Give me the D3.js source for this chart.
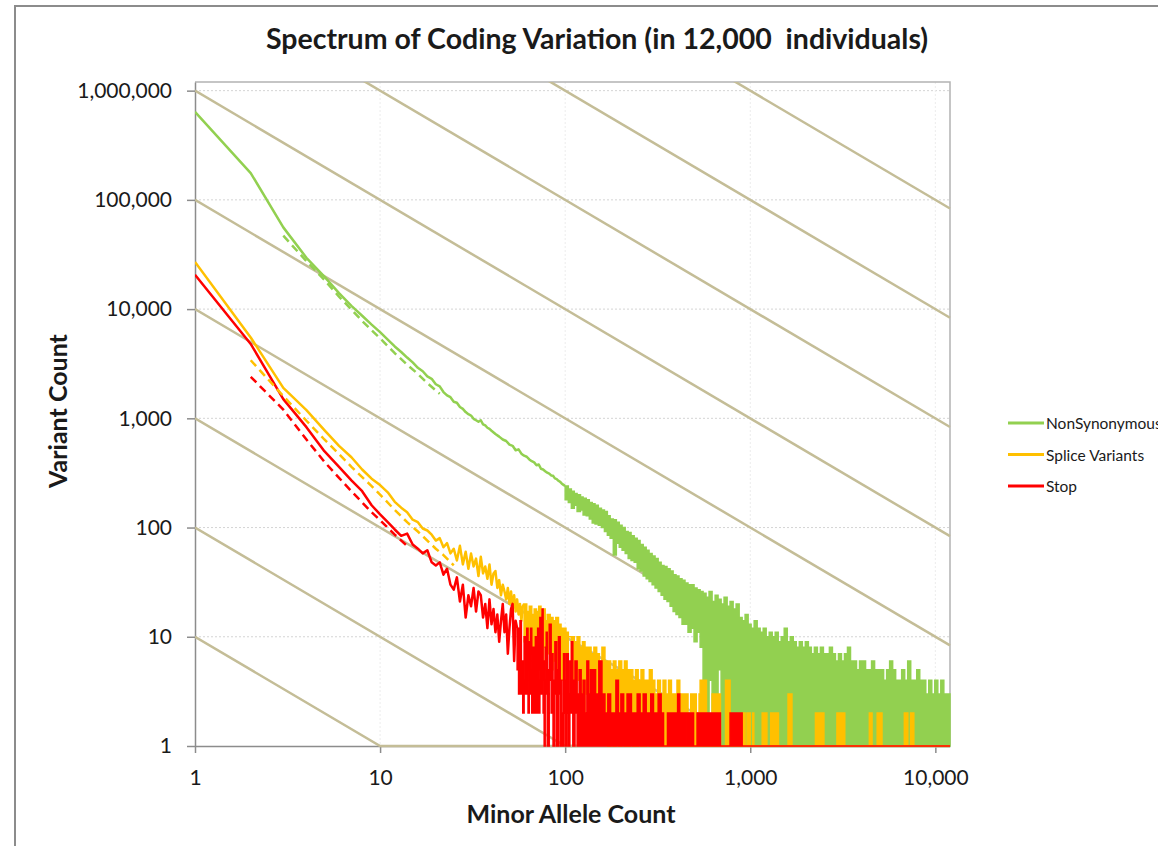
<!DOCTYPE html>
<html>
<head>
<meta charset="utf-8">
<script src="https://cdn.jsdelivr.net/npm/d3@7"></script>
<style>
  body { margin: 0; background: #fff; }
  text { font-family: Lato, "Open Sans", sans-serif; fill: #1a1a1a; }
</style>
</head>
<body>
<svg id="chart" width="1158" height="846"></svg>
<script>
// Axis ranges and ticks
const xMax = 12000;
const yMax = 1.2e6;
const xTicks = [1, 10, 100, 1000, 10000];
const yTicks = [1, 10, 100, 1000, 10000, 100000, 1000000];
// constant-product guide lines (count = level / minor allele count)
const guideLevels = [1e1, 1e2, 1e3, 1e4, 1e5, 1e6, 1e7, 1e8, 1e9];

const seriesNames = ['NonSynonymous', 'Splice Variants', 'Stop'];
const seriesColors = ['#92d050', '#ffc000', '#ff0000'];

// NonSynonymous: [minor allele count, variant count]
const nonSynonymous = [
  [1,640000],[2,176000],[3,56000],[4,29500],[5,19800],[6,14000],[7,10700],[8,8700],[9,7200],[10,6150],
  [11,5250],[12,4550],[13,4050],[14,3600],[15,3250],[16,2900],[17,2700],[18,2420],[19,2300],[20,2050],
  [21,1960],[22,1740],[23,1620],[24,1560],[25,1420],[26,1390],[27,1270],[28,1220],[29,1140],[30,1090],
  [31,1060],[32,990],[33,960],[34,930],[35,960],[36,880],[37,860],[38,820],[39,800],[40,770],
  [42,720],[44,680],[46,640],[48,620],[50,575],[52,560],[54,510],[56,520],[58,475],[60,455],
  [62,445],[64,420],[66,405],[68,395],[70,372],[72,378],[74,345],[76,340],[78,328],[80,318],
  [82,312],[84,300],[86,298],[88,282],[90,278],[92,268],[94,262],[96,252],[98,246],[100,240]
];
// NonSynonymous dense part: [minor allele count, high, low]
const nonSynonymousBand = [
  [100,240,180],[104,225,170],[108,215,150],[112,205,160],[116,200,140],[121,190,145],[125,185,130],
  [130,180,128],[135,170,120],[140,165,110],[145,160,108],[151,150,105],[157,145,100],[163,140,92],
  [169,128,85],[175,120,80],[182,118,56],[189,112,72],[196,105,66],[203,100,62],[211,92,58],
  [219,90,52],[227,84,50],[236,80,48],[245,76,42],[254,70,40],[264,66,36],[274,62,34],[284,58,32],
  [295,55,30],[306,52,28],[318,48,26],[330,45,24],[342,44,22],[355,42,21],[369,40,19],[383,37,17],
  [397,36,16],[412,34,15],[428,33,13],[444,31,13],[461,30,11],[479,30,12],[497,28,9],[516,27,11],
  [536,26,8],[556,25,1],[577,23,1],[599,26,4],[622,21,1],[646,24,1],[670,22,5],[696,20,1],
  [722,23,1],[750,19,3],[778,21,1],[808,18,1],[839,20,1],[871,15,1],[904,14,1],[938,16,1],
  [974,13,1],[1011,12,1],[1050,14,1],[1090,12,1],[1131,11,1],[1175,12,1],[1219,10,1],[1266,11,1],
  [1314,10,1],[1364,11,1],[1416,9,1],[1470,10,1],[1526,12,1],[1585,9,1],[1645,10,1],[1708,9,1],
  [1773,8,1],[1841,9,1],[1911,8,1],[1984,9,1],[2060,8,1],[2138,7,1],[2220,8,1],[2305,7,1],
  [2393,8,1],[2484,7,1],[2579,7,1],[2677,8,1],[2779,7,1],[2886,6,1],[2996,7,1],[3110,6,1],
  [3229,7,1],[3352,8,1],[3480,6,1],[3613,6,1],[3751,5,1],[3894,6,1],[4043,6,1],[4197,5,1],
  [4357,5,1],[4523,6,1],[4696,5,1],[4875,5,1],[5061,5,1],[5254,4,1],[5455,5,1],[5663,6,1],
  [5879,5,1],[6103,4,1],[6336,4,1],[6578,5,1],[6829,4,1],[7090,6,1],[7360,4,1],[7641,4,1],
  [7933,5,1],[8235,4,1],[8550,4,1],[8876,3,1],[9214,4,1],[9566,3,1],[9931,4,1],[10310,3,1],
  [10703,4,1],[11112,3,1],[11536,3,1],[12000,3,1]
];
const nonSynonymousDashed = [
  [3,47000],[4,27500],[5,18500],[6,13000],[7,9900],[8,7800],[9,6400],[10,5400],
  [12,3950],[14,3100],[16,2550],[18,2100],[20,1800],[21,1680]
];

// Splice Variants
const spliceVariants = [
  [1,27000],[2,5500],[3,1900],[4,1190],[5,780],[6,560],[7,440],[8,340],[9,280],[10,245],
  [11,210],[12,172],[13,152],[14,138],[15,118],[16,112],[17,98],[18,94],[19,86],[20,76],
  [21,80],[22,66],[23,72],[24,58],[25,64],[26,50],[27,68],[28,46],[29,60],[30,42],
  [31,58],[32,44],[33,52],[34,36],[35,54],[36,38],[37,44],[38,34],[39,46],[40,30],
  [41,38],[42,40],[43,28],[44,33],[45,24],[46,30],[47,26],[48,22],[49,28],[50,20],
  [51,26],[52,18],[53,24],[54,17],[55,22],[56,16],[57,20],[58,14],[59,19],[60,20]
];
const spliceBand = [
  [60,20,9],[62,17,8],[64,19,10],[66,16,7],[68,18,8],[70,17,6],[72,19,9],[74,16,6],[76,18,8],
  [78,14,5],[80,16,7],[83,15,5],[86,14,6],[89,15,4],[92,13,5],[95,12,4],[98,12,5],[101,11,3],
  [104,10,10],[108,10,4],[112,9,3],[116,10,4],[120,8,3],[124,9,2],[128,8,3],[133,8,2],[138,7,2],
  [143,8,2],[148,7,2],[153,6,2],[158,8,2],[164,6,2],[170,6,1],[176,5,2],[182,6,1],[188,5,2],
  [195,6,1],[202,5,2],[209,6,1],[216,5,1],[224,5,2],[232,4,1],[240,5,1],[248,4,2],[257,5,1],
  [266,4,1],[275,4,2],[285,5,1],[295,4,1],[305,3,1],[316,4,1],[327,3,1],[338,4,1],[350,3,1],
  [362,4,1],[375,3,1],[388,3,1],[402,4,1],[416,3,1],[430,3,1],[445,3,1],[461,2,1],[477,3,1],
  [494,3,1],[511,2,1],[529,3,1],[536,4,1],[580,1,1],[622,3,1],[690,1,1],[735,4,1],[778,1,1],
  [904,2,1],[938,1,1],[960,2,1],[1000,1,1],[1030,2,1],[1045,1,1],[1160,2,1],[1230,1,1],
  [1290,2,1],[1420,1,1],[1600,3,1],[1680,1,1],[2250,2,1],[2500,1,1],[2940,2,1],[3240,1,1],
  [4400,2,1],[4550,1,1],[4850,2,1],[5150,1,1],[6800,2,1],[7100,1,1],[7350,2,1],[7650,1,1],
  [12000,1,1]
];
const spliceDashed = [
  [2,3400],[3,1600],[4,950],[5,640],[6,470],[7,360],[8,290],[9,240],[10,200],
  [12,145],[14,112],[16,92],[18,76],[20,64],[22,56],[25,45]
];

// Stop
const stop = [
  [1,20600],[2,4800],[3,1500],[4,830],[5,500],[6,360],[7,270],[8,215],[9,160],[10,132],
  [11,112],[12,96],[13,84],[14,88],[15,70],[16,64],[17,58],[18,62],[19,48],[20,45],
  [21,48],[22,37],[23,42],[24,30],[25,27],[26,35],[27,21],[28,30],[29,15],[30,24],
  [31,19],[32,28],[33,17],[34,26],[35,24],[36,15],[37,20],[38,12],[39,22],[40,13],
  [41,18],[42,11],[43,16],[44,9],[45,14],[46,20],[47,11],[48,16],[49,7],[50,12],
  [51,18],[52,20],[53,6],[54,14],[55,12]
];
const stopBand = [
  [55,12,5],[56,9,3],[57,14,6],[58,6,3],[59,4,2],[60,10,4],[61,7,3],[62,12,5],[63,5,2],[64,9,3],
  [65,12,5],[66,5,2],[67,8,3],[68,4,2],[69,10,4],[70,6,2],[71,12,4],[72,5,2],[73,15,5],[74,8,3],
  [75,18,6],[76,6,2],[77,4,0],[78,8,3],[79,11,4],[80,5,1],[82,13,4],[84,7,2],[86,4,0],[88,9,3],
  [90,5,1],[92,10,3],[94,4,1],[96,2,0],[98,7,2],[100,4,1],[102,7,2],[104,3,0],[106,6,2],[108,9,2],
  [110,4,1],[113,6,2],[116,3,1],[119,5,1],[122,3,1],[125,4,1],[128,2,0],[131,6,1],[134,3,1],
  [137,5,1],[140,5,1],[146,3,1],[152,6,1],[158,3,1],[164,2,1],[170,3,1],[176,2,1],[182,2,0],
  [188,4,1],[194,2,1],[200,3,1],[207,2,1],[216,3,1],[228,2,1],[245,3,1],[254,2,1],[264,3,1],
  [274,2,1],[290,3,1],[300,2,1],[318,3,1],[330,2,1],[340,1,1],[357,2,1],[405,3,1],[416,2,1],
  [455,1,1],[460,2,1],[494,1,1],[516,2,1],[560,1,1],[566,2,1],[622,1,1],[628,2,1],[690,1,1],
  [778,2,1],[904,1,1],[12000,1,1]
];
const stopDashed = [
  [2,2400],[3,1200],[4,640],[5,400],[6,285],[7,215],[8,170],[9,138],[10,117],[12,86],[14,68]
];

const lines = [nonSynonymous, spliceVariants, stop];
const bands = [nonSynonymousBand, spliceBand, stopBand];
const dashed = [nonSynonymousDashed, spliceDashed, stopDashed];

const svg = d3.select('#chart');

// outer frame
svg.append('rect')
  .attr('x', 15).attr('y', 6).attr('width', 1300).attr('height', 1000)
  .attr('fill', '#fff').attr('stroke', '#8c8c8c').attr('stroke-width', 2);

const x = d3.scaleLog().domain([1, xMax]).range([195, 950]);
const y = d3.scaleLog().domain([1, yMax]).range([746, 82]);
const yv = v => y(Math.max(v, 1)); // zero counts sit on the axis floor

svg.append('defs').append('clipPath').attr('id', 'plot-clip')
  .append('rect').attr('x', 195).attr('y', 82).attr('width', 756).attr('height', 666);

// Grid
svg.append('g').selectAll('line').data(yTicks.slice(1)).join('line')
  .attr('x1', 195).attr('x2', 950).attr('y1', d => y(d)).attr('y2', d => y(d))
  .attr('stroke', '#d4d4d4').attr('stroke-dasharray', '2,2');
svg.append('g').selectAll('line').data(xTicks.slice(1)).join('line')
  .attr('x1', d => x(d)).attr('x2', d => x(d)).attr('y1', 82).attr('y2', 746)
  .attr('stroke', '#ececec').attr('stroke-dasharray', '2,2');

// Plot border (top/right)
svg.append('path')
  .attr('d', `M195,82H950V746`).attr('fill', 'none')
  .attr('stroke', '#b3b3b3').attr('stroke-width', 1.5);

// Axes
const yAxis = d3.axisLeft(y).tickValues(yTicks).tickFormat(d3.format(',')).tickSize(8).tickSizeOuter(0).tickPadding(15);
const xAxis = d3.axisBottom(x).tickValues(xTicks).tickFormat(d3.format(',')).tickSize(7).tickSizeOuter(0).tickPadding(17);
const gy = svg.append('g').attr('transform', 'translate(195,0)').call(yAxis);
const gx = svg.append('g').attr('transform', 'translate(0,746)').call(xAxis);
[gy, gx].forEach(g => {
  g.select('.domain').attr('stroke', '#8c8c8c').attr('stroke-width', 1.5);
  g.selectAll('.tick line').attr('stroke', '#8c8c8c').attr('stroke-width', 1.5);
  g.selectAll('.tick text').attr('font-size', '21px').attr('fill', '#1a1a1a')
    .attr('font-family', 'Lato, "Open Sans", sans-serif');
});

const plot = svg.append('g').attr('clip-path', 'url(#plot-clip)');

// Guide lines: count * allele count = level, floored at the axis
plot.append('g').selectAll('path').data(guideLevels).join('path')
  .attr('d', L => {
    const pts = L <= xMax ? [[1, L], [L, 1], [xMax, 1]] : [[1, L], [xMax, L / xMax]];
    return d3.line().x(p => x(p[0])).y(p => yv(p[1]))(pts);
  })
  .attr('fill', 'none').attr('stroke', '#c4bd97').attr('stroke-width', 2.5);

const line = d3.line().x(d => x(d[0])).y(d => yv(d[1]));
const area = d3.area().x(d => x(d[0])).y0(d => yv(d[2])).y1(d => yv(d[1])).curve(d3.curveStepAfter);

seriesNames.forEach((name, i) => {
  const g = plot.append('g');
  g.append('path').attr('d', area(bands[i]))
    .attr('fill', seriesColors[i]).attr('stroke', seriesColors[i]).attr('stroke-width', 1.5);
  g.append('path').attr('d', line(lines[i]))
    .attr('fill', 'none').attr('stroke', seriesColors[i]).attr('stroke-width', 2.5)
    .attr('stroke-linejoin', 'round');
});
seriesNames.forEach((name, i) => {
  plot.append('path').attr('d', line(dashed[i]))
    .attr('fill', 'none').attr('stroke', seriesColors[i]).attr('stroke-width', 2.5)
    .attr('stroke-dasharray', '8,5');
});

// Title and axis titles
svg.append('text').attr('x', 597).attr('y', 49).attr('text-anchor', 'middle')
  .attr('font-size', '28.5px').attr('font-weight', 'bold').style('white-space', 'pre')
  .text('Spectrum of Coding Variation (in 12,000  individuals)');
svg.append('text').attr('transform', 'translate(57,411) rotate(-90)').attr('text-anchor', 'middle')
  .attr('dominant-baseline', 'central').attr('font-size', '25px').attr('font-weight', 'bold')
  .text('Variant Count');
svg.append('text').attr('x', 571).attr('y', 823).attr('text-anchor', 'middle')
  .attr('font-size', '25px').attr('font-weight', 'bold')
  .text('Minor Allele Count');

// Legend
const legend = svg.append('g').selectAll('g').data(seriesNames).join('g')
  .attr('transform', (d, i) => `translate(1008,${423 + i * 31.5})`);
legend.append('line').attr('x1', 0).attr('x2', 36).attr('y1', 0).attr('y2', 0)
  .attr('stroke', (d, i) => seriesColors[i]).attr('stroke-width', 3);
legend.append('text').attr('x', 38).attr('y', 0).attr('dominant-baseline', 'central')
  .attr('font-size', '15.5px').text(d => d);
</script>
</body>
</html>
